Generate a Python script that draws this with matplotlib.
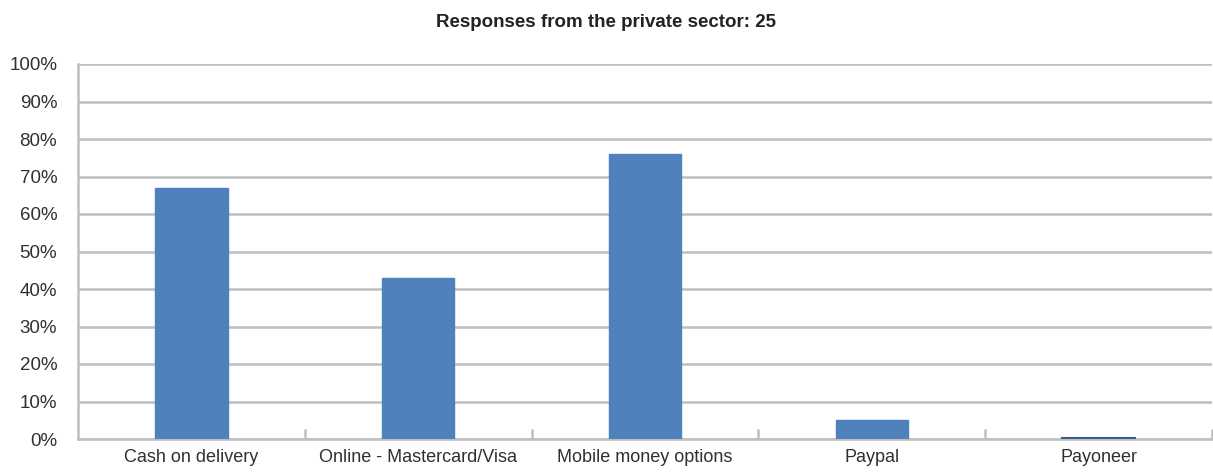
import matplotlib.pyplot as plt
from matplotlib.ticker import PercentFormatter, MultipleLocator

categories = ["Cash on delivery", "Online - Mastercard/Visa", "Mobile money options", "Paypal", "Payoneer"]
shares = [67, 43, 76, 5, 0]

plt.rcParams["font.family"] = ["Liberation Sans", "DejaVu Sans"]

blue = "#4f81bd"
grid = "#bfbfbf"
txt = "#303030"

fig = plt.figure(figsize=(12.13, 4.72), dpi=100)
ax = fig.add_axes([78 / 1213, 1 - 439 / 472, 1 - 78 / 1213 - 1 / 1213, (439 - 64) / 472])

x = range(len(categories))
ax.bar(x, shares, width=0.32, color=blue, edgecolor=blue, linewidth=1, zorder=3)
# zero values show as a thin line on the axis
for i, v in zip(x, shares):
    if v == 0:
        ax.plot([i - 0.16, i + 0.16], [0.3, 0.3], color="#3a5f8f", lw=1.5, zorder=4)

ax.set_xlim(-0.5, len(categories) - 0.5)
ax.set_ylim(0, 100)
ax.yaxis.set_major_locator(MultipleLocator(10))
ax.yaxis.set_major_formatter(PercentFormatter(decimals=0))
ax.grid(axis="y", color=grid, linewidth=1.8, zorder=0)

ax.set_xticks(list(x))
ax.set_xticklabels(categories, fontsize=13, color=txt)
ax.tick_params(axis="x", length=0, pad=7)
ax.set_xticks([i + 0.5 for i in x], minor=True)
ax.tick_params(axis="x", which="minor", length=7, width=1.8, color=grid, direction="in")
ax.tick_params(axis="y", length=0, labelsize=13.5, labelcolor=txt, pad=15)

for s in ["top", "right"]:
    ax.spines[s].set_visible(False)
for s in ["left", "bottom"]:
    ax.spines[s].set_color(grid)
    ax.spines[s].set_linewidth(1.8)

fig.suptitle("Responses from the private sector: 25", fontsize=13.5, fontweight="bold",
             color="#222222", y=0.97)

fig.savefig("out.png", dpi=100)
